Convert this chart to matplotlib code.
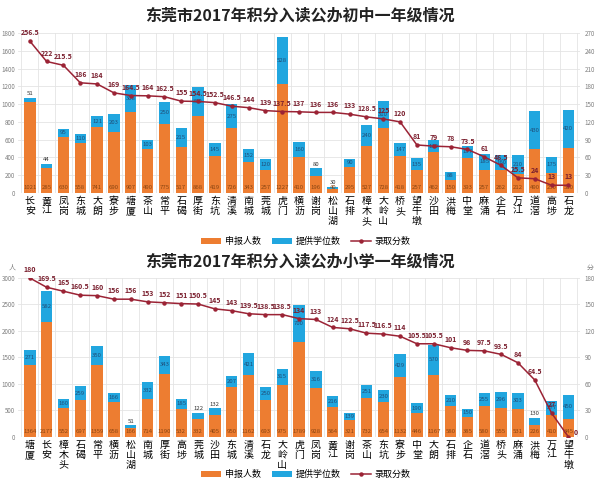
import matplotlib
matplotlib.use("Agg")
import matplotlib.pyplot as plt
from matplotlib.lines import Line2D
from matplotlib.patches import Patch
import numpy as np

plt.rcParams['font.family'] = ['Noto Sans CJK SC', 'DejaVu Sans']

# ---------------- data: junior middle school (top) ----------------
mid_title = "东莞市2017年积分入读公办初中一年级情况"
mid_towns = ["长安", "黄江", "凤岗", "东城", "大朗", "寮步", "塘厦", "茶山", "常平", "石碣",
             "厚街", "东坑", "清溪", "南城", "莞城", "虎门", "横沥", "谢岗", "松山湖", "石排",
             "樟木头", "大岭山", "桥头", "望牛墩", "沙田", "洪梅", "中堂", "麻涌", "企石", "万江",
             "道滘", "高埗", "石龙"]
mid_applicants = [1021, 285, 630, 558, 741, 690, 907, 490, 775, 517,
                  868, 419, 726, 343, 257, 1227, 410, 196, 40, 295,
                  527, 728, 418, 257, 462, 150, 393, 257, 262, 212,
                  490, 230, 510]
mid_seats = [51, 44, 95, 110, 121, 203, 308, 103, 250, 215,
             330, 145, 275, 152, 120, 528, 160, 80, 30, 90,
             240, 310, 147, 135, 130, 88, 137, 185, 160, 210,
             430, 175, 420]
mid_scores = [256.5, 222, 215.5, 186, 184, 169, 164.5, 164, 162.5, 155,
              154.5, 152.5, 146.5, 144, 139, 137.5, 137, 136, 136, 133,
              128.5, 125, 120, 81, 79, 78, 73.5, 61, 46.5, 25.5,
              24, 13, 13]
mid_left_ticks = [0, 200, 400, 600, 800, 1000, 1200, 1400, 1600, 1800]
mid_right_ticks = [0, 30, 60, 90, 120, 150, 180, 210, 240, 270]

# ---------------- data: primary school (bottom) ----------------
pri_title = "东莞市2017年积分入读公办小学一年级情况"
pri_towns = ["塘厦", "长安", "樟木头", "石碣", "常平", "横沥", "松山湖", "南城", "厚街", "高埗",
             "莞城", "沙田", "东城", "清溪", "石龙", "大岭山", "虎门", "凤岗", "黄江", "谢岗",
             "茶山", "东坑", "寮步", "中堂", "大朗", "石排", "企石", "道滘", "桥头", "麻涌",
             "洪梅", "万江", "望牛墩"]
pri_applicants = [1364, 2177, 552, 697, 1359, 658, 166, 714, 1190, 532,
                  332, 405, 950, 1162, 693, 975, 1789, 928, 564, 321,
                  732, 654, 1132, 446, 1167, 580, 385, 580, 555, 531,
                  226, 410, 345]
pri_seats = [271, 582, 160, 259, 350, 166, 51, 332, 343, 185,
             122, 132, 207, 421, 250, 315, 700, 316, 216, 139,
             251, 230, 429, 190, 570, 210, 150, 255, 296, 303,
             130, 277, 450]
pri_scores = [180, 169.5, 165, 160.5, 160, 156, 156, 153, 152, 151,
              150.5, 145, 143, 139.5, 138.5, 138.5, 134, 133, 124, 122.5,
              117.5, 116.5, 114, 105.5, 105.5, 101, 98, 97.5, 93.5, 84,
              64.5, 27, 0]
pri_left_ticks = [0, 500, 1000, 1500, 2000, 2500, 3000]
pri_right_ticks = [0, 30, 60, 90, 120, 150, 180]

legend_labels = ["申报人数", "提供学位数", "录取分数"]

ORANGE = "#ED7D31"
BLUE = "#21A6DF"
LINE = "#9B2335"
LABELC = "#7A1F2E"
TICKC = "#7f7f7f"


def draw(ax, towns, app, seats, scores, lticks, rticks):
    n = len(towns)
    x = np.arange(n)
    ymax = lticks[-1]
    ax.set_axisbelow(True)
    ax.bar(x, app, width=0.68, color=ORANGE, zorder=2)
    ax.bar(x, seats, width=0.68, bottom=app, color=BLUE, zorder=2)
    ax.set_xlim(-0.7, n - 0.3)
    ax.set_ylim(0, ymax)
    ax.set_yticks(lticks)
    ax.set_yticklabels([str(t) for t in lticks], fontsize=4.5, color=TICKC)
    ax.set_xticks(x)
    ax.set_xticklabels(["\n".join(t) for t in towns], fontsize=7.2, linespacing=1.0)
    ax.set_xticks(np.arange(-0.5, n, 1), minor=True)
    ax.tick_params(axis='both', which='both', length=0, pad=2)
    ax.grid(True, axis='y', color='#e4e4e4', lw=0.6)
    ax.grid(True, axis='x', which='minor', color='#e4e4e4', lw=0.6)
    for s in ax.spines.values():
        s.set_visible(False)
    for i in range(n):
        ax.text(x[i], ymax * 0.035, str(app[i]), ha='center', va='center',
                fontsize=4.3, color='#8a4512', zorder=4)
        seg = seats[i]
        if seg < ymax * 0.045:
            ax.text(x[i], app[i] + seg + ymax * 0.01, str(seg), ha='center', va='bottom',
                    fontsize=4.3, color='#333333', zorder=4)
        else:
            ax.text(x[i], app[i] + seg * 0.5, str(seg), ha='center', va='center',
                    fontsize=4.3, color='#1F4E79', zorder=4)
    ax2 = ax.twinx()
    ax2.plot(x, scores, color=LINE, lw=1.1, marker='o', ms=2.2, zorder=5)
    ax2.set_ylim(0, rticks[-1])
    ax2.set_yticks(rticks)
    ax2.set_yticklabels([str(t) for t in rticks], fontsize=4.5, color=TICKC)
    ax2.tick_params(length=0, pad=3)
    for s in ax2.spines.values():
        s.set_visible(False)
    for i in range(n):
        if scores[i] == 0:
            ax2.annotate(f"{scores[i]:g}", (x[i], scores[i]), xytext=(4, 1),
                         textcoords='offset points', ha='left', va='bottom',
                         fontsize=5, color=LABELC, fontweight='bold', zorder=6)
        else:
            ax2.annotate(f"{scores[i]:g}", (x[i], scores[i]), xytext=(0, 3.5),
                         textcoords='offset points', ha='center', va='bottom',
                         fontsize=5, color=LABELC, fontweight='bold', zorder=6)
    return ax2


fig = plt.figure(figsize=(6, 4.86), dpi=100)
fig.patch.set_facecolor('white')

ax_top = fig.add_axes([0.03, 0.603, 0.937, 0.329])
draw(ax_top, mid_towns, mid_applicants, mid_seats, mid_scores, mid_left_ticks, mid_right_ticks)
ax_bot = fig.add_axes([0.03, 0.101, 0.937, 0.327])
draw(ax_bot, pri_towns, pri_applicants, pri_seats, pri_scores, pri_left_ticks, pri_right_ticks)

fig.text(0.5, 0.969, mid_title, ha='center', va='center', fontsize=11.5, fontweight='bold', color='#222222')
fig.text(0.5, 0.461, pri_title, ha='center', va='center', fontsize=11.5, fontweight='bold', color='#222222')
fig.text(0.02, 0.449, "人", ha='center', va='center', fontsize=5, color=TICKC)
fig.text(0.983, 0.449, "分", ha='center', va='center', fontsize=5, color=TICKC)

handles = [Patch(facecolor=ORANGE), Patch(facecolor=BLUE),
           Line2D([0], [0], color=LINE, lw=1.1, marker='o', ms=2.2)]
for ypos in (0.503, 0.024):
    fig.legend(handles, legend_labels, loc='center', bbox_to_anchor=(0.51, ypos), ncol=3,
               frameon=False, fontsize=6.5, handlelength=2.2, handleheight=0.7,
               columnspacing=1.2, handletextpad=0.4)

fig.savefig("out.png", dpi=100, facecolor='white')
